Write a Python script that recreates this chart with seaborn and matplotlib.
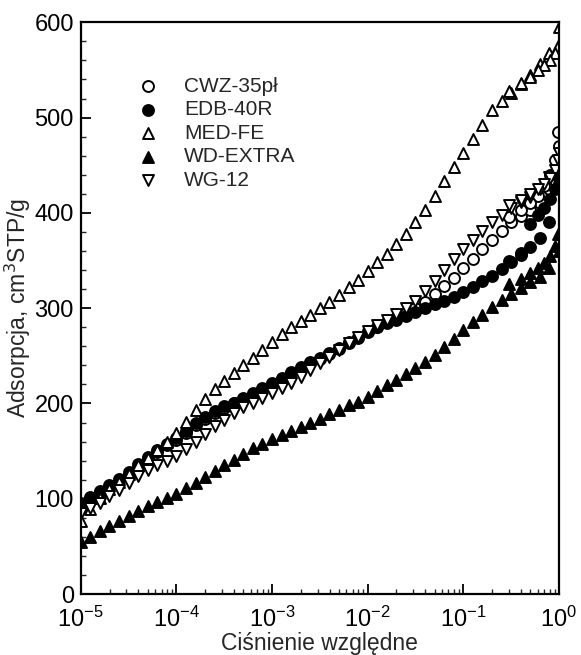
import pandas as pd
import seaborn as sns
import matplotlib.pyplot as plt
from matplotlib.ticker import LogLocator, MultipleLocator, NullFormatter

# log10 of relative pressure (adsorption points)
log_p = [-5.0, -4.9, -4.8, -4.7, -4.6, -4.5, -4.4, -4.3, -4.2, -4.1,
         -4.0, -3.9, -3.8, -3.7, -3.6, -3.5, -3.4, -3.3, -3.2, -3.1,
         -3.0, -2.9, -2.8, -2.7, -2.6, -2.5, -2.4, -2.3, -2.2, -2.1,
         -2.0, -1.9, -1.8, -1.7, -1.6, -1.5, -1.4, -1.3, -1.2, -1.1,
         -1.0, -0.9, -0.8, -0.7, -0.6, -0.5, -0.4, -0.3, -0.2, -0.1, 0.0]

cwz = [94, 100, 106, 112, 119, 126, 134, 142, 149, 156,
       162, 169, 177, 184, 190, 195, 200, 205, 210, 215,
       220, 226, 232, 237, 242, 247, 252, 257, 263, 269,
       275, 280, 285, 290, 295, 300, 307, 315, 323, 332,
       342, 352, 362, 372, 381, 390, 397, 403, 410, 425, 470]
edb = [96, 102, 108, 114, 121, 128, 136, 144, 151, 158,
       164, 171, 180, 186, 192, 197, 201, 206, 211, 216,
       221, 227, 233, 238, 243, 248, 253, 258, 264, 270,
       276, 280, 284, 288, 292, 296, 300, 304, 308, 312,
       317, 322, 328, 334, 341, 348, 356, 364, 374, 390, 430]
med = [77, 89, 101, 110, 118, 126, 135, 143, 151, 160,
       169, 181, 193, 205, 215, 224, 232, 240, 248, 256,
       265, 273, 280, 287, 293, 300, 307, 314, 322, 330,
       339, 348, 357, 367, 378, 390, 403, 418, 433, 448,
       463, 477, 492, 508, 517, 526, 535, 545, 556, 568, 595]
wd = [55, 60, 66, 71, 77, 82, 87, 92, 97, 101,
      105, 111, 117, 123, 129, 135, 141, 147, 153, 158,
      163, 167, 171, 175, 180, 184, 189, 193, 198, 202,
      207, 213, 219, 225, 231, 237, 244, 251, 259, 268,
      277, 286, 293, 301, 309, 315, 321, 327, 333, 342, 360]
wg = [85, 90, 96, 103, 109, 117, 124, 130, 135, 140,
      145, 152, 160, 168, 176, 183, 190, 196, 201, 206,
      211, 216, 222, 228, 235, 242, 249, 256, 263, 270,
      276, 282, 288, 294, 300, 308, 318, 328, 340, 352,
      362, 372, 381, 390, 398, 405, 411, 417, 425, 438, 463]

# desorption branch (relative pressure)
p_des = [0.98, 0.9, 0.8, 0.7, 0.6, 0.5, 0.4, 0.3]
cwz_des = [485, 455, 440, 428, 418, 410, 403, 396]
edb_des = [440, 425, 415, 405, 398, 388, 358, 350]
med_des = [575, 568, 560, 555, 550, 543, 536, 528]
wd_des = [378, 365, 355, 347, 342, 337, 331, 325]
wg_des = [455, 445, 437, 430, 425, 420, 414, 408]

names = ["CWZ-35pł", "EDB-40R", "MED-FE", "WD-EXTRA", "WG-12"]
ads = [cwz, edb, med, wd, wg]
des = [cwz_des, edb_des, med_des, wd_des, wg_des]
markers = ["o", "o", "^", "^", "v"]
faces = ["white", "black", "white", "black", "white"]

sns.set_style("ticks")
plt.rcParams["font.family"] = ["Liberation Sans", "DejaVu Sans"]

fig = plt.figure(figsize=(5.81, 6.55), dpi=100)
ax = fig.add_axes([0.139, 0.093, 0.823, 0.873])

for name, a, d, m, fc in zip(names, ads, des, markers, faces):
    df = pd.DataFrame({
        "p": [10 ** v for v in log_p] + p_des,
        "q": a + d,
    })
    sns.scatterplot(data=df, x="p", y="q", ax=ax, marker=m, s=62,
                    color=fc, edgecolor="black", linewidth=1.4, label=name)

ax.set_xscale("log")
ax.set_xlim(1e-5, 1)
ax.set_ylim(0, 600)
ax.xaxis.set_major_locator(LogLocator(base=10, numticks=10))
ax.xaxis.set_minor_locator(LogLocator(base=10, subs=range(2, 10), numticks=100))
ax.xaxis.set_minor_formatter(NullFormatter())
ax.yaxis.set_major_locator(MultipleLocator(100))
ax.yaxis.set_minor_locator(MultipleLocator(20))

ax.tick_params(axis="both", which="major", direction="in", length=7, width=1.3,
               labelsize=17, colors="black")
ax.tick_params(axis="x", which="major", pad=9)
ax.tick_params(axis="y", which="major", pad=5)
ax.tick_params(axis="both", which="minor", direction="in", length=3.5, width=1.0)
for sp in ax.spines.values():
    sp.set_linewidth(1.6)
    sp.set_color("black")

ax.set_xlabel("Ciśnienie względne", fontsize=16.5, labelpad=0)
ax.set_ylabel("Adsorpcja, cm$^3$STP/g", fontsize=16.5, labelpad=1)

ax.legend(loc="upper left", bbox_to_anchor=(0.118, 0.905), frameon=False,
          fontsize=15, handlelength=1.0, handletextpad=1.25, labelspacing=0.22,
          borderaxespad=0, borderpad=0)

fig.savefig("out.png", dpi=100)
